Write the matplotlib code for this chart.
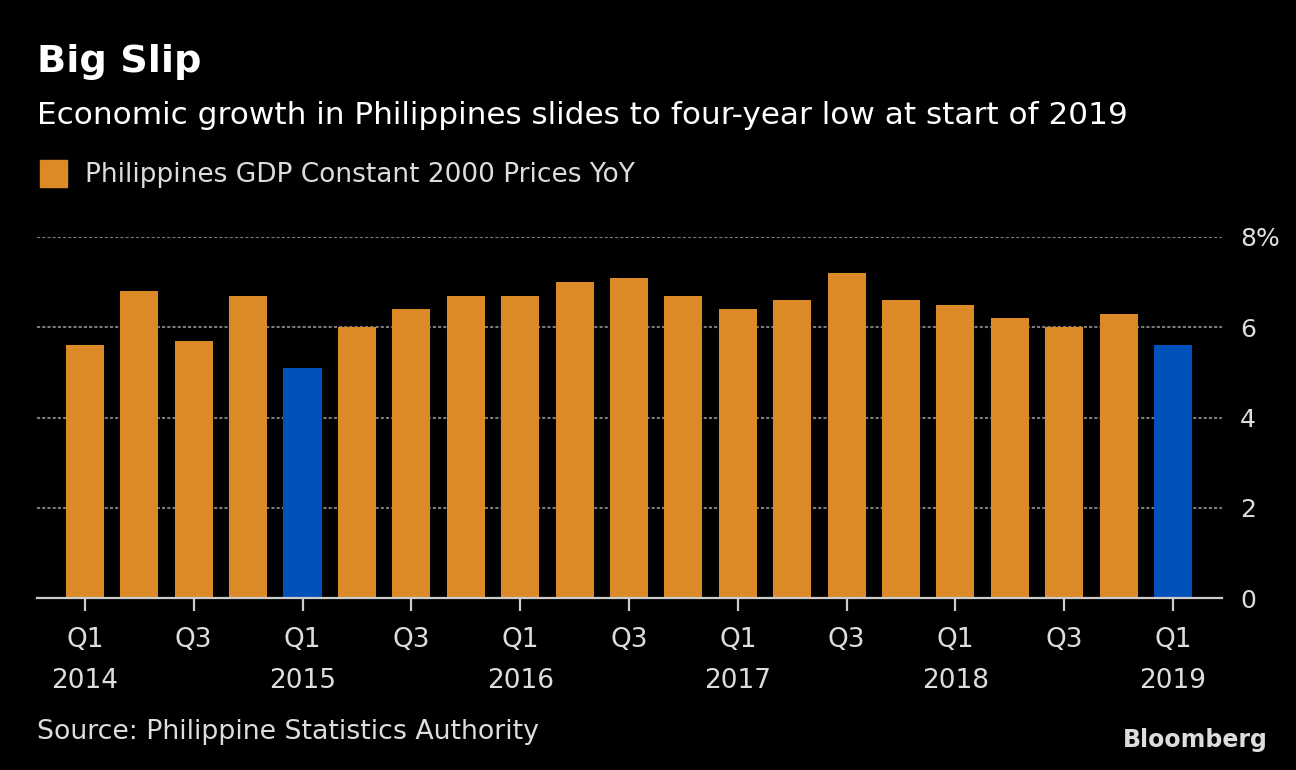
import matplotlib.pyplot as plt
from matplotlib import font_manager

# quarterly GDP growth, Q1 2014 .. Q1 2019
quarters = ["Q1", "Q2", "Q3", "Q4"] * 5 + ["Q1"]
years = [y for y in range(2014, 2019) for _ in range(4)] + [2019]
gdp_yoy = [5.6, 6.8, 5.7, 6.7,
           5.1, 6.0, 6.4, 6.7,
           6.7, 7.0, 7.1, 6.7,
           6.4, 6.6, 7.2, 6.6,
           6.5, 6.2, 6.0, 6.3,
           5.6]
highlight = [4, 20]

ORANGE = "#DC8A28"
BLUE = "#0052BA"
TEXT = "#DDDDDD"

names = {f.name for f in font_manager.fontManager.ttflist}
family = "Liberation Sans Narrow" if "Liberation Sans Narrow" in names else "DejaVu Sans"
plt.rcParams["font.family"] = [family, "DejaVu Sans"]

fig = plt.figure(figsize=(12.96, 7.70), dpi=100, facecolor="black")
ax = fig.add_axes([37 / 1296, 1 - 598 / 770, (1222 - 37) / 1296, (598 - 237) / 770])
ax.set_facecolor("black")

x = list(range(len(gdp_yoy)))
colors = [BLUE if i in highlight else ORANGE for i in x]
ax.bar(x, gdp_yoy, width=0.7, color=colors, zorder=3)

ax.set_xlim(-0.88, 20.9)
ax.set_ylim(0, 8)

for v in [2, 4, 6, 8]:
    ax.axhline(v, color="#7A7A7A", lw=1.5, linestyle=(0, (1.5, 1.0)), zorder=1)

for s in ["top", "left", "right"]:
    ax.spines[s].set_visible(False)
ax.spines["bottom"].set_color("#CCCCCC")
ax.spines["bottom"].set_linewidth(1.6)
ax.spines["bottom"].set_zorder(4)

ax.yaxis.tick_right()
ax.set_yticks([0, 2, 4, 6, 8])
ax.set_yticklabels(["0", "2", "4", "6", "8%"])
ax.tick_params(axis="y", length=0, pad=13, labelsize=18, labelcolor=TEXT)

tick_pos = x[::2]
tick_lab = []
for i in tick_pos:
    if quarters[i] == "Q1":
        tick_lab.append(f"{quarters[i]}\n{years[i]}")
    else:
        tick_lab.append(quarters[i])
ax.set_xticks(tick_pos)
ax.set_xticklabels(tick_lab, linespacing=1.75, va="top")
ax.tick_params(axis="x", length=9, width=1.6, color="#CCCCCC", pad=12,
               labelsize=19, labelcolor=TEXT)

fig.text(37 / 1296, 1 - 62 / 770, "Big Slip", color="white", fontsize=27.5,
         fontweight="bold", va="center", family=["DejaVu Sans"])
fig.text(37 / 1296, 1 - 115 / 770,
         "Economic growth in Philippines slides to four-year low at start of 2019",
         color="white", fontsize=22.4, va="center")

fig.patches.append(plt.Rectangle((40 / 1296, 1 - 187 / 770), 27 / 1296, 27 / 770,
                                 transform=fig.transFigure, color=ORANGE))
fig.text(85 / 1296, 1 - 175 / 770, "Philippines GDP Constant 2000 Prices YoY",
         color=TEXT, fontsize=19, va="center")

fig.text(37 / 1296, 1 - 732 / 770, "Source: Philippine Statistics Authority",
         color=TEXT, fontsize=19.3, va="center")
fig.text(1268 / 1296, 1 - 740 / 770, "Bloomberg", color="#DDDDDD", fontsize=17,
         fontweight="bold", ha="right", va="center", family=["DejaVu Sans"])

fig.savefig("out.png", dpi=100, facecolor="black")
